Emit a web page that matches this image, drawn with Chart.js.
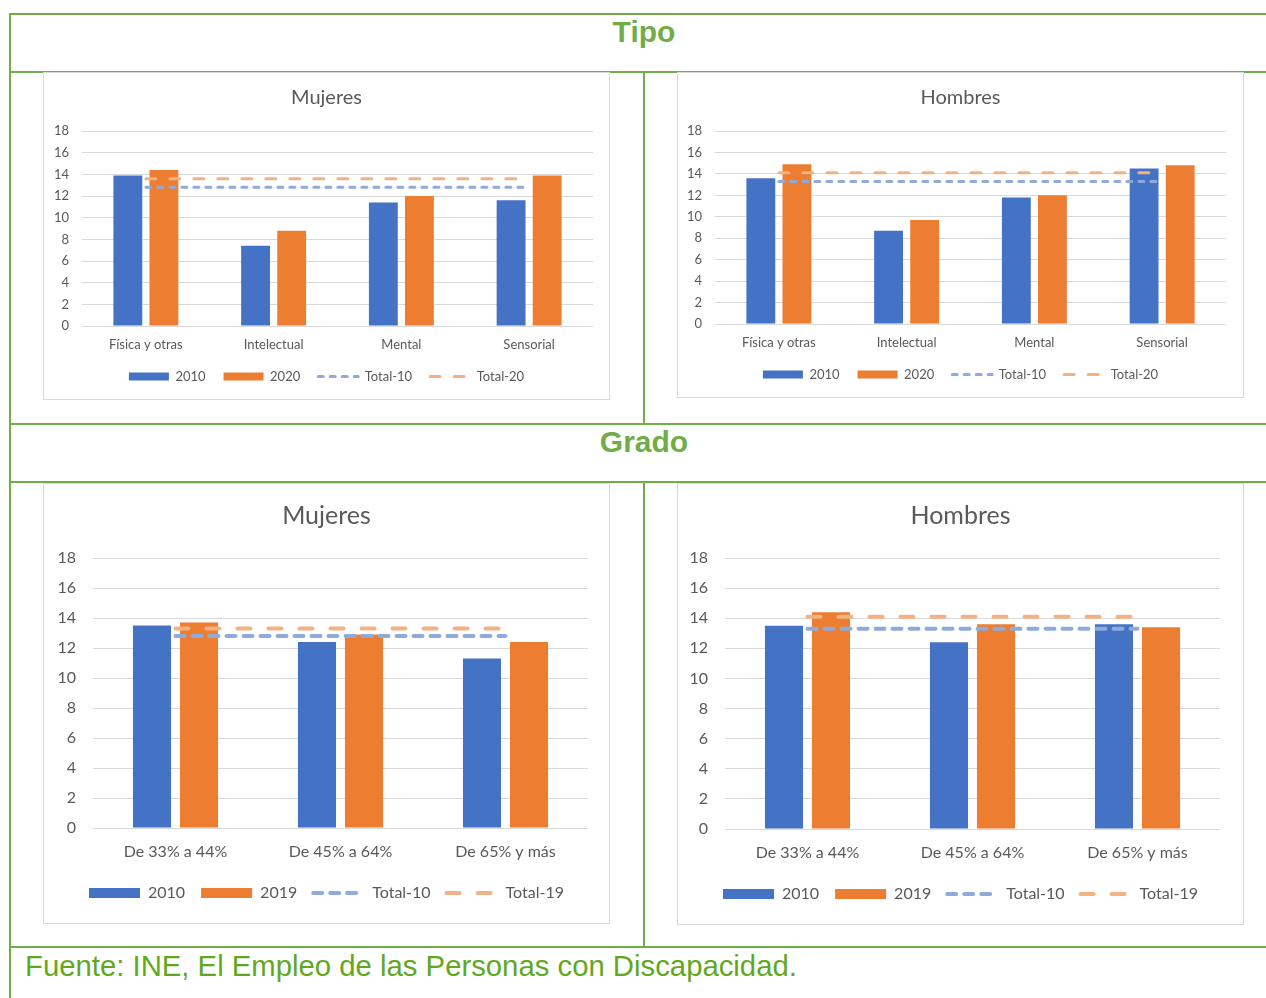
<!DOCTYPE html>
<html>
<head>
<meta charset="utf-8">
<script src="https://cdn.jsdelivr.net/npm/chart.js@4.4.1/dist/chart.umd.min.js"></script>
<style>
  body { margin: 0; background: #fff; width: 1266px; height: 998px; position: relative; overflow: hidden; font-family: "Liberation Sans", Arial, sans-serif; }
  .hl { position: absolute; left: 10px; width: 1256px; height: 2px; background: #70AD47; }
  .vl { position: absolute; width: 2px; background: #70AD47; }
  .head { position: absolute; left: 10px; width: 1268px; text-align: center; color: #70AD47; font-weight: bold; font-size: 30px; line-height: 34px; }
  .box { position: absolute; border: 1px solid #d9d9d9; background: #fff; }
  .foot { position: absolute; left: 25px; top: 949px; color: #62A81E; font-size: 29.3px; line-height: 34px; }
</style>
</head>
<body>
<div class="hl" style="top:13px"></div>
<div class="hl" style="top:71px"></div>
<div class="hl" style="top:423px"></div>
<div class="hl" style="top:481px"></div>
<div class="hl" style="top:946px"></div>
<div class="vl" style="left:9px; top:13px; height:985px"></div>
<div class="vl" style="left:643px; top:71px; height:353px"></div>
<div class="vl" style="left:643px; top:481px; height:466px"></div>

<div class="head" style="top:15px">Tipo</div>
<div class="head" style="top:425px">Grado</div>

<div class="box" style="left:43px; top:72px; width:565px; height:326px"><canvas id="tipoMuj"></canvas></div>
<div class="box" style="left:677px; top:72px; width:565px; height:324px"><canvas id="tipoHom"></canvas></div>
<div class="box" style="left:43px; top:483px; width:565px; height:439px"><canvas id="gradoMuj"></canvas></div>
<div class="box" style="left:677px; top:483px; width:565px; height:440px"><canvas id="gradoHom"></canvas></div>

<div class="foot">Fuente: INE, El Empleo de las Personas con Discapacidad.</div>

<script>
// categories
let tipo_labels = ['Física y otras', 'Intelectual', 'Mental', 'Sensorial'];
let grado_labels = ['De 33% a 44%', 'De 45% a 64%', 'De 65% y más'];
let y_ticks = [0, 2, 4, 6, 8, 10, 12, 14, 16, 18];

// Tipo - Mujeres
let tipo_muj_2010 = [13.9, 7.4, 11.4, 11.6];
let tipo_muj_2020 = [14.4, 8.8, 12.0, 13.9];
let tipo_muj_total10 = [12.8, 12.8, 12.8, 12.8];
let tipo_muj_total20 = [13.6, 13.6, 13.6, 13.6];

// Tipo - Hombres
let tipo_hom_2010 = [13.6, 8.7, 11.8, 14.5];
let tipo_hom_2020 = [14.9, 9.7, 12.0, 14.8];
let tipo_hom_total10 = [13.3, 13.3, 13.3, 13.3];
let tipo_hom_total20 = [14.1, 14.1, 14.1, 14.1];

// Grado - Mujeres
let grado_muj_2010 = [13.5, 12.4, 11.3];
let grado_muj_2019 = [13.7, 12.9, 12.4];
let grado_muj_total10 = [12.8, 12.8, 12.8];
let grado_muj_total19 = [13.3, 13.3, 13.3];

// Grado - Hombres
let grado_hom_2010 = [13.5, 12.4, 13.6];
let grado_hom_2019 = [14.4, 13.6, 13.4];
let grado_hom_total10 = [13.3, 13.3, 13.3];
let grado_hom_total19 = [14.1, 14.1, 14.1];

const BLUE = '#4472C4', ORANGE = '#ED7D31', LBLUE = '#8FAADC', LORANGE = '#F4B183';
const TXT = '#595959';
const FONT = 'Lato, "Open Sans", sans-serif';

// legend: keep the dashes of the line series
function legendLabels(chart) {
    let items = Chart.defaults.plugins.legend.labels.generateLabels(chart);
    items.forEach(function (it) {
        let ds = chart.data.datasets[it.datasetIndex];
        if (ds.type === 'line') {
            it.lineDash = ds.borderDash;
            it.lineWidth = ds.borderWidth;
            it.strokeStyle = ds.borderColor;
            it.lineCap = 'round';
        } else {
            it.lineWidth = 0;
        }
    });
    return items;
}

function makeChart(id, title, labels, yr1, yr2, v1, v2, t1, t2, s) {
    // s holds the sizes for the small (top) or big (bottom) chart
    let lineBase = {
        type: 'line', pointRadius: 0, pointHoverRadius: 0, fill: false,
        borderWidth: s.lw, borderCapStyle: 'round', order: 0,
        pointStyle: 'line'
    };
    new Chart(id, {
        type: 'bar',
        data: {
            labels: labels,
            datasets: [
                { label: yr1, data: v1, backgroundColor: BLUE, order: 1, pointStyle: 'rect',
                  categoryPercentage: s.cat, barPercentage: s.bar },
                { label: yr2, data: v2, backgroundColor: ORANGE, order: 1, pointStyle: 'rect',
                  categoryPercentage: s.cat, barPercentage: s.bar },
                Object.assign({ label: t1, data: s.d1, borderColor: LBLUE, backgroundColor: LBLUE, borderDash: s.dash1 }, lineBase),
                Object.assign({ label: t2, data: s.d2, borderColor: LORANGE, backgroundColor: LORANGE, borderDash: s.dash2 }, lineBase)
            ]
        },
        options: {
            responsive: true,
            maintainAspectRatio: false,
            animation: false,
            layout: { padding: { top: 5, left: 0, right: 0, bottom: s.pb } },
            plugins: {
                title: {
                    display: true, text: title, color: TXT,
                    font: { family: FONT, size: s.tf, weight: 'normal' },
                    padding: { top: s.tpt, bottom: s.tpb }
                },
                legend: {
                    position: 'bottom',
                    labels: {
                        color: TXT, font: { family: FONT, size: s.lf },
                        usePointStyle: true, pointStyleWidth: s.bw, boxHeight: s.bh,
                        padding: s.lp,
                        generateLabels: legendLabels,
                        sort: function (a, b) { return a.datasetIndex - b.datasetIndex; }
                    }
                },
                tooltip: { enabled: false }
            },
            scales: {
                x: {
                    grid: { display: false, drawTicks: false },
                    border: { display: false },
                    ticks: { color: TXT, font: { family: FONT, size: s.xf }, padding: s.xp, maxRotation: 0 },
                    afterFit: function (sc) { sc.height = s.xh; }
                },
                y: {
                    min: 0, max: 18,
                    afterBuildTicks: function (sc) { sc.ticks = y_ticks.map(function (v) { return { value: v }; }); },
                    grid: { color: '#d9d9d9', drawTicks: false, lineWidth: 1 },
                    border: { display: false },
                    ticks: { color: TXT, font: { family: FONT, size: s.yf }, padding: s.yp },
                    afterFit: function (sc) { sc.width = s.yw; }
                },
                // empty right margin, keeps title and legend centred on the box
                yRight: {
                    position: 'right', min: 0, max: 18,
                    grid: { display: false, drawTicks: false },
                    border: { display: false },
                    ticks: { display: false },
                    afterFit: function (sc) { sc.width = s.pr; }
                }
            }
        }
    });
}

let small = { lw: 3, cat: 0.565, bar: 0.8, dash1: [5, 7], dash2: [10, 14], pr: 16, pb: 6,
    tf: 20, tpt: 8, tpb: 21, lf: 13, bw: 40, bh: 8, lp: 18, xf: 13, xp: 11, xh: 26, yf: 13, yp: 13, yw: 38 };
let big = { lw: 4, cat: 0.57, bar: 0.81, dash1: [9, 8], dash2: [13, 18], pr: 21, pb: 12,
    tf: 25, tpt: 12, tpb: 27, lf: 16, bw: 51, bh: 10, lp: 16, xf: 16, xp: 14, xh: 41, yf: 16, yp: 17, yw: 49 };

makeChart('tipoMuj', 'Mujeres', tipo_labels, '2010', '2020', tipo_muj_2010, tipo_muj_2020, 'Total-10', 'Total-20',
    Object.assign({}, small, { d1: tipo_muj_total10, d2: tipo_muj_total20 }));
makeChart('tipoHom', 'Hombres', tipo_labels, '2010', '2020', tipo_hom_2010, tipo_hom_2020, 'Total-10', 'Total-20',
    Object.assign({}, small, { d1: tipo_hom_total10, d2: tipo_hom_total20, yw: 37, pr: 17 }));
makeChart('gradoMuj', 'Mujeres', grado_labels, '2010', '2019', grado_muj_2010, grado_muj_2019, 'Total-10', 'Total-19',
    Object.assign({}, big, { d1: grado_muj_total10, d2: grado_muj_total19 }));
makeChart('gradoHom', 'Hombres', grado_labels, '2010', '2019', grado_hom_2010, grado_hom_2019, 'Total-10', 'Total-19',
    Object.assign({}, big, { d1: grado_hom_total10, d2: grado_hom_total19, yw: 47, pr: 23 }));
</script>
</body>
</html>
